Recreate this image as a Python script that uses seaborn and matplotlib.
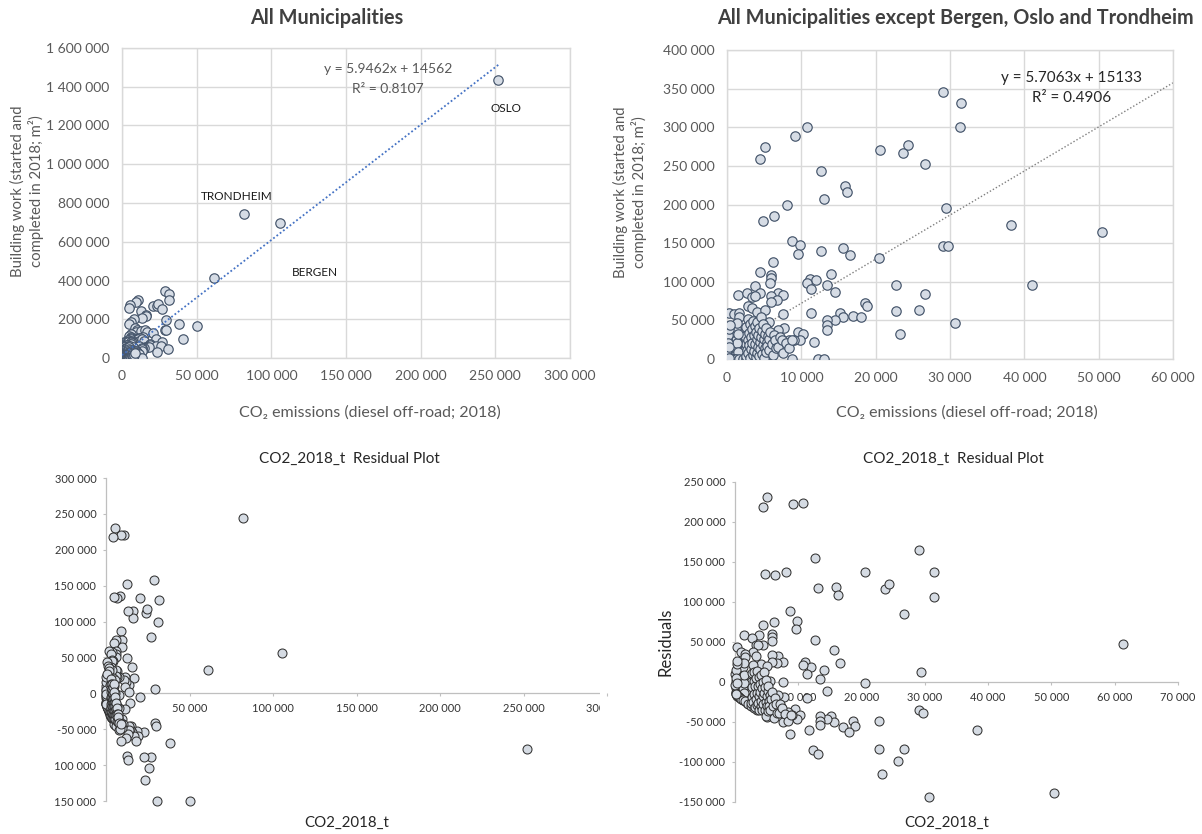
import numpy as np
import pandas as pd
import seaborn as sns
import matplotlib.pyplot as plt
import matplotlib.ticker as ticker
from matplotlib.transforms import Bbox, TransformedBbox

sns.set_theme(style="white")
plt.rcParams['font.family'] = ['Lato', 'DejaVu Sans']

#---------------------------------------------
#            DATA
#---------------------------------------------
# Municipalities except Bergen, Oslo and Trondheim: CO2 (t) and building work (m2)
co2_t = [
    29000, 31500, 31400, 10800, 9100, 5100, 4400, 20600, 23700, 24400,
    26700, 12700, 15900, 16200, 13100, 8100, 29400, 6300, 4800, 38200,
    50400, 8700, 9800, 9600, 12700, 15600, 16600, 29100, 29700, 20500,
    6200, 4500, 5900, 5900, 5800, 14000, 11100, 12000, 10800, 11300,
    13500, 14500, 22700, 41000, 26700, 3800, 4400, 1500, 2700, 3300,
    3700, 6800, 7600, 5900, 6700, 5900, 2800, 3300, 4100, 5100,
    300, 900, 1600, 1600, 18600, 18900, 22800, 25800, 11300, 15200,
    15600, 17000, 18000, 14500, 13500, 13500, 13400, 7600, 5600, 4500,
    30700, 23300, 7700, 6800, 9500, 10200, 8400, 9800, 9000, 11700,
    5100, 6400, 7200, 8700, 12300, 13100, 5100, 3500, 61300,
    # dense cluster near the origin
    120, 200, 260, 310, 380, 420, 470, 520, 560, 610,
    650, 700, 740, 790, 830, 880, 920, 960, 1010, 1050,
    1100, 1140, 1190, 1230, 1280, 1320, 1370, 1410, 1460, 1500,
    1550, 1590, 1640, 1680, 1730, 1770, 1820, 1860, 1910, 1950,
    2000, 2050, 2090, 2140, 2180, 2230, 2270, 2320, 2360, 2410,
    2450, 2500, 90, 150, 230, 290, 340, 400, 450, 500,
    540, 590, 630, 680, 720, 770, 820, 860, 900, 950,
    990, 1030, 1080, 1120, 1170, 1210, 1260, 1300, 1350, 1390,
    1440, 1480, 60, 80, 180, 250, 330, 360, 440, 600,
    760, 1000, 1250, 1600, 2100, 2600, 3000, 60, 140, 210,
    280,
    2550, 2620, 2700, 2760, 2830, 2890, 2950, 3020, 3080, 3150,
    3210, 3270, 3340, 3400, 3460, 3530, 3590, 3650, 3720, 3780,
    3850, 3910, 3970, 4040, 4100, 4170, 4230, 4300, 4360, 4430,
    4490, 4560, 4620, 4690, 4750, 4820, 4880, 4950, 5020, 5080,
    5150, 5220, 5280, 5350, 5420, 5480,
    5600, 5700, 5850, 6000, 6150, 6300, 6450, 6600, 6900, 7100,
    7350, 7600, 7900, 8300, 8800,
]
build_m2 = [
    345000, 332000, 300000, 300000, 289000, 275000, 259000, 270000, 267000, 277000,
    252000, 243000, 224000, 216000, 207000, 199000, 195000, 185000, 178000, 173000,
    164000, 153000, 147000, 136000, 140000, 144000, 134000, 146000, 146000, 131000,
    126000, 112000, 109000, 105000, 99000, 110000, 103000, 102000, 98000, 90000,
    96000, 87000, 96000, 96000, 84000, 95000, 86000, 83000, 85000, 80000,
    82000, 86000, 83000, 82000, 77000, 74000, 68000, 66000, 61000, 64000,
    60000, 58000, 59000, 55000, 72000, 68000, 62000, 64000, 60000, 59000,
    54000, 56000, 55000, 51000, 50000, 44000, 38000, 58000, 48000, 51000,
    47000, 33000, 40000, 38000, 35000, 32000, 25000, 25000, 25000, 22500,
    29000, 25000, 25000, 0, 0, 0, 1000, 500, 412000,
    # dense cluster near the origin
    1500, 4200, 800, 9800, 2600, 14500, 6100, 200, 11200, 3900,
    19800, 7300, 1200, 16400, 4800, 24500, 9100, 300, 13300, 5600,
    21700, 2100, 10400, 28600, 6900, 17900, 900, 12300, 4300, 25600,
    8200, 15100, 1700, 20900, 11000, 3300, 31500, 7700, 18300, 500,
    13900, 26700, 5200, 22800, 9600, 16800, 2800, 35200, 12700, 6400,
    29400, 19100, 7900, 12600, 17300, 22100, 5400, 27300, 10700, 18700,
    33100, 8600, 14000, 2400, 23900, 10100, 37800, 1800, 15800, 29900,
    7000, 44300, 16200, 3700, 24100, 40500, 14800, 600, 21300, 46200,
    9300, 32400, 25800, 400, 30800, 38900, 0, 43600, 0, 0,
    0, 0, 0, 0, 0, 0, 0, 11500, 20500, 900,
    15000,
    3900, 41500, 11800, 24600, 52000, 7200, 33800, 17600, 45800, 1400,
    27900, 13000, 38600, 21000, 5800, 49200, 30500, 10200, 42300, 19300,
    2700, 35400, 25900, 8400, 47700, 15700, 31200, 4100, 39800, 22500,
    12900, 54200, 28300, 6900, 36400, 18200, 44900, 1000, 26400, 14300,
    33000, 9000, 40300, 21800, 16600, 30000,
    11700, 26000, 35500, 19500, 5200, 31000, 24600, 14600, 16000, 28500,
    24600, 8000, 20800, 14000, 24600,
]

city_names = ["OSLO", "TRONDHEIM", "BERGEN"]
city_co2 = [252000, 81800, 105600]
city_m2 = [1436000, 745000, 699000]
# label positions of the city names (data units)
city_label_x = [257000, 77000, 129500]
city_label_y = [1290000, 836000, 439000]

# Excel trendlines as printed on the chart
SLOPE_ALL, INTERCEPT_ALL, R2_ALL = 5.9462, 14562, 0.8107
SLOPE_REST, INTERCEPT_REST, R2_REST = 5.7063, 15133, 0.4906

rest = pd.DataFrame({"co2": co2_t, "m2": build_m2})
cities = pd.DataFrame({"co2": city_co2, "m2": city_m2})
alle = pd.concat([rest, cities], ignore_index=True)
alle["resid"] = alle["m2"] - (SLOPE_ALL * alle["co2"] + INTERCEPT_ALL)
rest["resid"] = rest["m2"] - (SLOPE_REST * rest["co2"] + INTERCEPT_REST)

# Excel leaves out points that fall outside the value axis
RES_MIN = -150000
alle_res = alle[alle["resid"] >= RES_MIN * 1.005]
rest_res = rest[rest["resid"] >= RES_MIN * 1.005]

#---------------------------------------------
#            FIGURE
#---------------------------------------------
W, H = 1202, 834
fig = plt.figure(figsize=(W / 100, H / 100), dpi=100)


def px(l, t, r, b):
    return [l / W, 1 - b / H, (r - l) / W, (b - t) / H]


def space_fmt(v, pos):
    return f"{int(round(v)):,}".replace(",", " ")


def space_fmt_no0(v, pos):
    return "" if abs(v) < 1 else space_fmt(v, pos)


def style_top(ax, xmax, xstep, ymax, ystep):
    ax.set_xlim(0, xmax)
    ax.set_ylim(0, ymax)
    ax.set_xticks(np.arange(0, xmax + 1, xstep))
    ax.set_yticks(np.arange(0, ymax + 1, ystep))
    ax.grid(True, color="#D9D9D9", lw=1)
    ax.set_axisbelow(True)
    for s in ax.spines.values():
        s.set_color("#D9D9D9")
        s.set_linewidth(1)
    ax.tick_params(length=0, labelsize=10, labelcolor="#595959", pad=9)
    ax.xaxis.set_major_formatter(ticker.FuncFormatter(space_fmt))
    ax.yaxis.set_major_formatter(ticker.FuncFormatter(space_fmt))
    ax.set_xlabel("")
    ax.set_ylabel("")


def style_resid(ax, xmax, xstep, ymin, ymax, ystep):
    ax.set_xlim(0, xmax)
    ax.set_ylim(ymin, ymax)
    ax.set_xticks(np.arange(0, xmax + 1, xstep))
    ax.set_yticks(np.arange(ymin, ymax + 1, ystep))
    ax.spines["top"].set_visible(False)
    ax.spines["right"].set_visible(False)
    ax.spines["bottom"].set_position(("data", 0))
    for s in ("left", "bottom"):
        ax.spines[s].set_color("#BFBFBF")
        ax.spines[s].set_linewidth(0.9)
    ax.tick_params(bottom=True, left=True, length=2.5, width=0.8, color="#BFBFBF",
                   labelsize=8, labelcolor="#333333", pad=4.5)
    ax.xaxis.set_major_formatter(ticker.FuncFormatter(space_fmt_no0))
    ax.yaxis.set_major_formatter(ticker.FuncFormatter(space_fmt))
    ax.set_xlabel("")
    ax.set_ylabel("")


ylab = "Building work (started and\ncompleted in 2018; m²)"
xlab = "CO₂ emissions (diesel off-road; 2018)"
top_pt = dict(s=46, color="#D6DCE5", edgecolor="#44546A", linewidth=0.85, legend=False)
res_pt = dict(s=42, color="#D5DBE3", edgecolor="#333333", linewidth=0.75, legend=False)

# ---- top left: all municipalities
ax1 = fig.add_axes(px(122, 48, 570, 358))
sns.scatterplot(data=alle, x="co2", y="m2", ax=ax1, zorder=3, **top_pt)
xs = np.array([0, alle["co2"].max()])
ax1.plot(xs, SLOPE_ALL * xs + INTERCEPT_ALL, ls=(0, (1, 1.3)), color="#4472C4", lw=1.3, zorder=4)
style_top(ax1, 300000, 50000, 1600000, 200000)
ax1.text(178000, 1492000, f"y = {SLOPE_ALL}x + {INTERCEPT_ALL}", ha="center", va="center",
         fontsize=10, color="#595959")
ax1.text(178000, 1388000, f"R² = {R2_ALL}", ha="center", va="center", fontsize=10, color="#595959")
for name, lx, ly in zip(city_names, city_label_x, city_label_y):
    ax1.text(lx, ly, name, ha="center", va="center", fontsize=8.5, color="#1a1a1a")
fig.text(327 / W, 1 - 18 / H, "All Municipalities", ha="center", va="center",
         fontsize=14.3, fontweight="bold", color="#404040")
fig.text(27 / W, 1 - 191 / H, ylab, rotation=90, ha="center", va="center",
         fontsize=10.7, color="#595959", linespacing=1.3)
fig.text(370 / W, 1 - 413 / H, xlab, ha="center", va="center", fontsize=11.5, color="#595959")

# ---- top right: without the three cities
ax2 = fig.add_axes(px(727, 50, 1173, 359))
xs2 = np.array([0, 60000])
ax2.plot(xs2, SLOPE_REST * xs2 + INTERCEPT_REST, ls=(0, (1, 1.5)), color="#7F7F7F", lw=1.0, zorder=2)
sns.scatterplot(data=rest, x="co2", y="m2", ax=ax2, zorder=3, **top_pt)
style_top(ax2, 60000, 10000, 400000, 50000)
ax2.text(46300, 363700, f"y = {SLOPE_REST}x + {INTERCEPT_REST}", ha="center", va="center",
         fontsize=11, color="#262626")
ax2.text(46300, 337900, f"R² = {R2_REST}", ha="center", va="center", fontsize=11, color="#262626")
fig.text(955 / W, 1 - 18 / H, "All Municipalities except Bergen, Oslo and Trondheim",
         ha="center", va="center", fontsize=14.3, fontweight="bold", color="#404040")
fig.text(630 / W, 1 - 192 / H, ylab, rotation=90, ha="center", va="center",
         fontsize=10.7, color="#595959", linespacing=1.3)
fig.text(967 / W, 1 - 413 / H, xlab, ha="center", va="center", fontsize=11.5, color="#595959")

# ---- bottom left: residuals, all municipalities
ax3 = fig.add_axes(px(106, 478, 607, 801))
sns.scatterplot(data=alle_res, x="co2", y="resid", ax=ax3, clip_on=False, zorder=3, **res_pt)
style_resid(ax3, 300000, 50000, RES_MIN, 300000, 50000)
fig.text(349 / W, 1 - 459 / H, "CO2_2018_t  Residual Plot", ha="center", va="center",
         fontsize=11, color="#262626")
fig.text(347 / W, 1 - 823 / H, "CO2_2018_t", ha="center", va="center", fontsize=10.8, color="#262626")

# ---- bottom right: residuals, without the three cities
ax4 = fig.add_axes(px(735, 482, 1178, 802))
sns.scatterplot(data=rest_res, x="co2", y="resid", ax=ax4, clip_on=False, zorder=3, **res_pt)
style_resid(ax4, 70000, 10000, RES_MIN, 250000, 50000)
fig.text(953 / W, 1 - 459 / H, "CO2_2018_t  Residual Plot", ha="center", va="center",
         fontsize=11, color="#262626")
fig.text(947 / W, 1 - 823 / H, "CO2_2018_t", ha="center", va="center", fontsize=10.8, color="#262626")
fig.text(665 / W, 1 - 642 / H, "Residuals", rotation=90, ha="center", va="center",
         fontsize=12, color="#262626")

# the left residual chart is cut off in the original picture:
# its left edge sits where the widest positive label starts
fig.canvas.draw()
renderer = fig.canvas.get_renderer()
ylabels = ax3.get_yticklabels()
left_px = min(l.get_window_extent(renderer).x0 for l in ylabels if not l.get_text().startswith("-"))
clip = TransformedBbox(Bbox.from_extents((left_px - 0.5) / W, 0, 600 / W, 0.6), fig.transFigure)
for lab in ax3.get_xticklabels() + ylabels:
    lab.set_clip_box(clip)
    lab.set_clip_on(True)
ax3.spines["bottom"].set_clip_box(clip)
ax3.spines["bottom"].set_clip_on(True)

fig.savefig("out.png", dpi=100)
